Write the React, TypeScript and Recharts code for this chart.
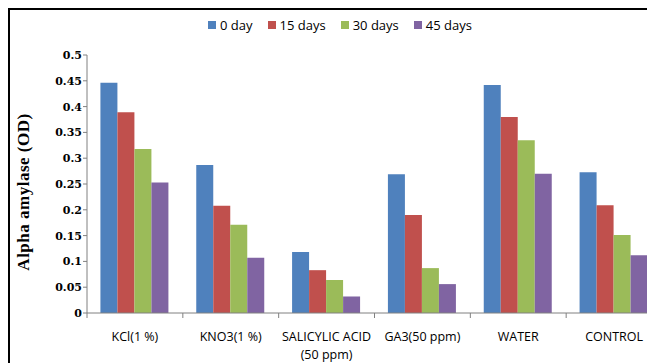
import { BarChart, Bar, XAxis, YAxis, Legend } from 'recharts';

// treatments on the x axis
const categories = ['KCl(1 %)', 'KNO3(1 %)', 'SALICYLIC ACID\n(50 ppm)', 'GA3(50 ppm)', 'WATER', 'CONTROL'];

// alpha amylase (OD) per storage period
const day0 = [0.446, 0.287, 0.118, 0.269, 0.442, 0.273];
const day15 = [0.389, 0.208, 0.083, 0.19, 0.38, 0.209];
const day30 = [0.318, 0.171, 0.064, 0.087, 0.335, 0.151];
const day45 = [0.253, 0.107, 0.032, 0.056, 0.27, 0.112];

const seriesNames = ['0 day', '15 days', '30 days', '45 days'];
const seriesColors = ['#4F81BD', '#C0504D', '#9BBB59', '#8064A2'];

const yTicks = [0, 0.05, 0.1, 0.15, 0.2, 0.25, 0.3, 0.35, 0.4, 0.45, 0.5];

const data = categories.map((name, i) => ({
    name,
    d0: day0[i],
    d15: day15[i],
    d30: day30[i],
    d45: day45[i],
}));
const keys = ['d0', 'd15', 'd30', 'd45'];

const axisGray = '#808080';

// label plus the Excel-style tick marks between categories
function CategoryTick({ x, y, payload, index }: any) {
    const lines = String(payload.value).split('\n');
    const half = payload.offset || 0;
    return (
        <g>
            <line x1={x - half} x2={x - half} y1={y} y2={y + 5} stroke={axisGray} />
            {index === categories.length - 1 && (
                <line x1={x + half} x2={x + half} y1={y} y2={y + 5} stroke={axisGray} />
            )}
            <text x={x} y={y} textAnchor="middle" fontFamily="'Open Sans'" fontSize={12.5} fill="#000">
                {lines.map((line, i) => (
                    <tspan key={i} x={x} dy={i === 0 ? 28 : 18}>{line}</tspan>
                ))}
            </text>
        </g>
    );
}

function YTitle({ viewBox }: any) {
    const cy = viewBox.y + viewBox.height / 2 + 8;
    return (
        <text
            transform={`translate(18.5, ${cy}) rotate(-90)`}
            textAnchor="middle"
            fontFamily="'Liberation Serif'"
            fontWeight="bold"
            fontSize={17}
            letterSpacing={0.5}
            fill="#000"
        >
            Alpha amylase (OD)
        </text>
    );
}

function LegendBox() {
    return (
        <div style={{ display: 'flex', height: 20, alignItems: 'center', fontFamily: "'Open Sans'", fontSize: 13, color: '#000' }}>
            {seriesNames.map((name, i) => (
                <div key={name} style={{ display: 'flex', alignItems: 'center', marginRight: 15 }}>
                    <span style={{ width: 8, height: 8, background: seriesColors[i], marginRight: 4, display: 'inline-block' }} />
                    <span>{name}</span>
                </div>
            ))}
        </div>
    );
}

export default function App() {
    return (
        <div style={{ width: 645, height: 353, overflow: 'hidden', borderTop: '2px solid #000', borderLeft: '2px solid #000', background: '#fff' }}>
            <BarChart
                width={700}
                height={353}
                data={data}
                margin={{ top: 25, right: 48, bottom: 0, left: 0 }}
                barCategoryGap="14%"
                barGap={0}
            >
                <Legend
                    verticalAlign="top"
                    content={() => <LegendBox />}
                    wrapperStyle={{ top: 5, left: 198, width: 'auto' }}
                />
                <XAxis
                    dataKey="name"
                    height={50}
                    stroke={axisGray}
                    tickLine={false}
                    tickSize={0}
                    tickMargin={0}
                    interval={0}
                    tick={<CategoryTick />}
                />
                <YAxis
                    width={77}
                    domain={[0, 0.5]}
                    ticks={yTicks}
                    interval={0}
                    tickSize={4}
                    tickMargin={1}
                    stroke={axisGray}
                    tick={{ fill: '#000', fontFamily: "'DejaVu Serif'", fontWeight: 'bold', fontSize: 11 }}
                    label={<YTitle />}
                />
                {keys.map((k, i) => (
                    <Bar key={k} dataKey={k} name={seriesNames[i]} fill={seriesColors[i]} isAnimationActive={false} />
                ))}
            </BarChart>
        </div>
    );
}
